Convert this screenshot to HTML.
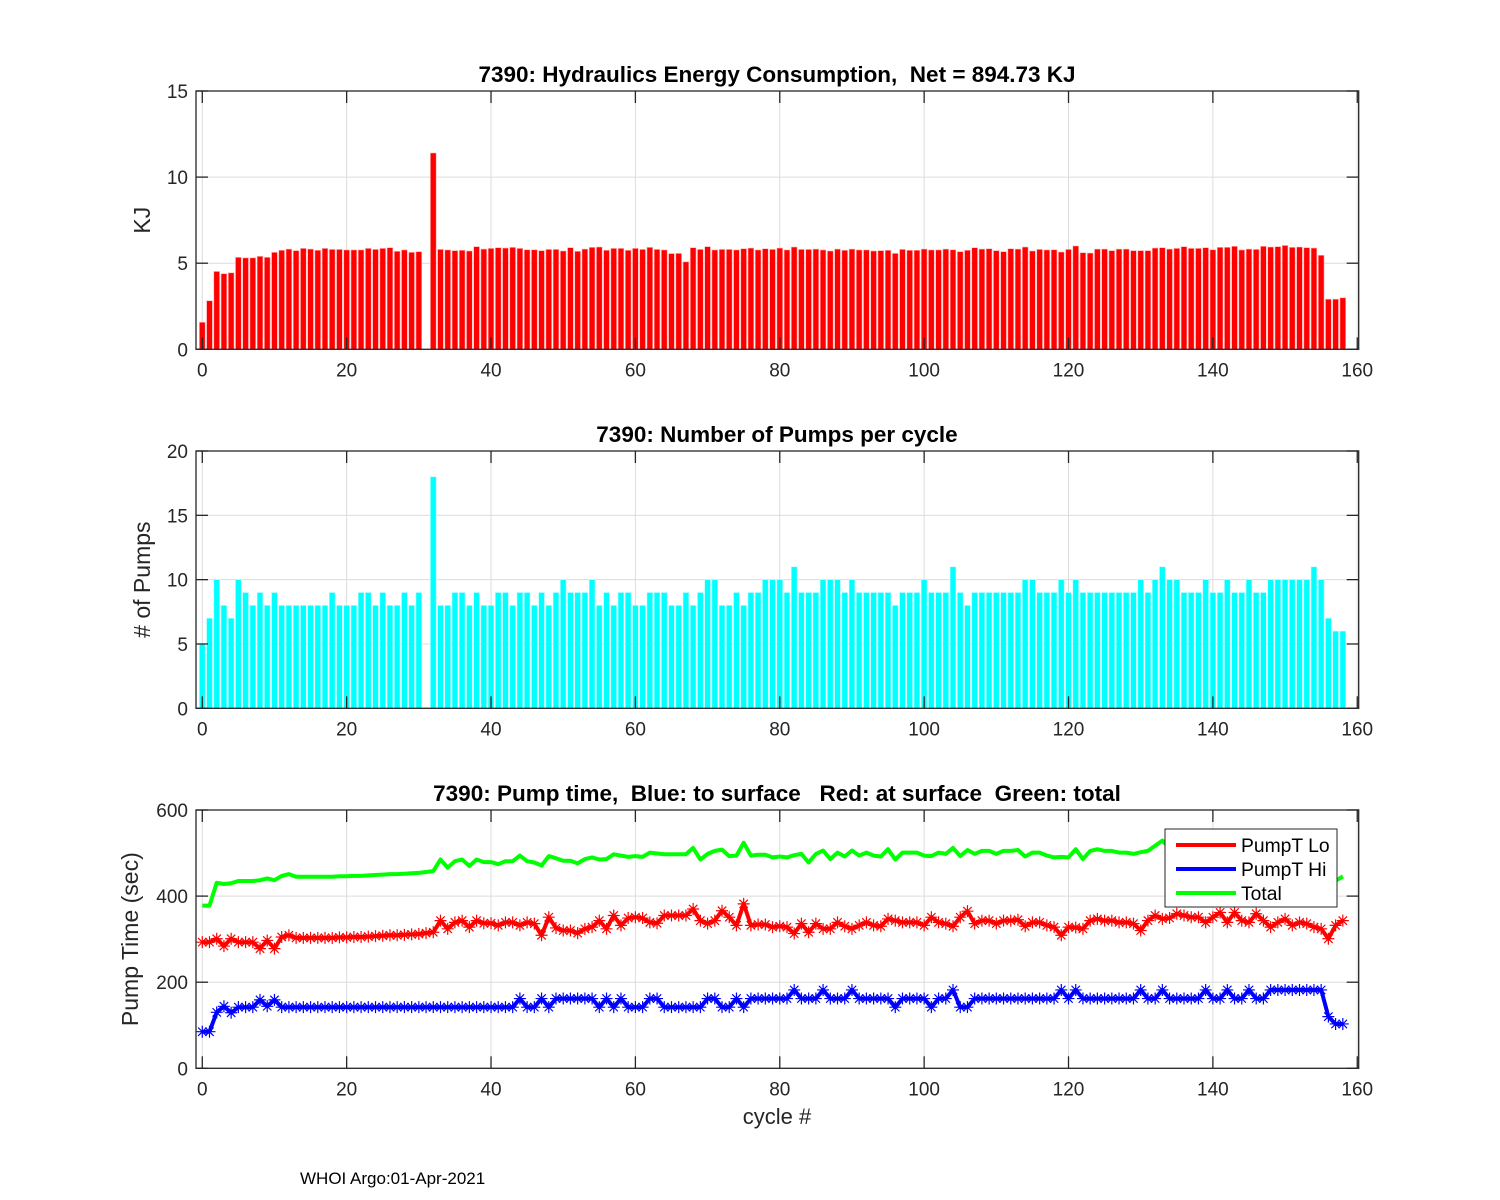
<!DOCTYPE html>
<html><head><meta charset="utf-8"><style>
html,body{margin:0;padding:0;background:#fff;}
svg{display:block;font-family:"Liberation Sans",Arial,sans-serif;}
text{white-space:pre;}
</style></head><body>
<svg id="fig" width="1500" height="1200" viewBox="0 0 1500 1200" xmlns="http://www.w3.org/2000/svg" xml:space="preserve">
<rect x="0" y="0" width="1500" height="1200" fill="#fff"/>
</svg>
<script>
const energy=[1.57,2.82,4.52,4.39,4.44,5.34,5.31,5.31,5.40,5.34,5.63,5.75,5.82,5.73,5.86,5.82,5.75,5.86,5.80,5.80,5.77,5.77,5.77,5.86,5.80,5.86,5.90,5.69,5.77,5.63,5.67,0,11.4,5.80,5.77,5.73,5.75,5.71,5.96,5.82,5.86,5.90,5.88,5.92,5.86,5.78,5.78,5.73,5.80,5.80,5.71,5.90,5.69,5.82,5.92,5.94,5.75,5.86,5.86,5.75,5.86,5.80,5.92,5.80,5.77,5.56,5.57,5.08,5.90,5.80,5.96,5.77,5.80,5.80,5.77,5.84,5.88,5.77,5.84,5.80,5.88,5.77,5.94,5.80,5.80,5.82,5.77,5.71,5.82,5.75,5.82,5.77,5.77,5.71,5.73,5.75,5.57,5.80,5.75,5.75,5.82,5.77,5.77,5.82,5.78,5.67,5.75,5.90,5.82,5.84,5.73,5.67,5.84,5.82,5.94,5.71,5.80,5.77,5.78,5.65,5.80,6.00,5.61,5.59,5.82,5.82,5.73,5.82,5.82,5.73,5.73,5.73,5.88,5.90,5.82,5.86,5.96,5.86,5.86,5.90,5.78,5.92,5.92,5.98,5.77,5.82,5.80,5.98,5.94,5.96,6.03,5.92,5.94,5.90,5.88,5.46,2.91,2.91,2.99];
const pumps=[5,7,10,8,7,10,9,8,9,8,9,8,8,8,8,8,8,8,9,8,8,8,9,9,8,9,8,8,9,8,9,0,18,8,8,9,9,8,9,8,8,9,9,8,9,9,8,9,8,9,10,9,9,9,10,8,9,8,9,9,8,8,9,9,9,8,8,9,8,9,10,10,8,8,9,8,9,9,10,10,10,9,11,9,9,9,10,10,10,9,10,9,9,9,9,9,8,9,9,9,10,9,9,9,11,9,8,9,9,9,9,9,9,9,10,10,9,9,9,10,9,10,9,9,9,9,9,9,9,9,10,9,10,11,10,10,9,9,9,10,9,9,10,9,9,10,9,9,10,10,10,10,10,10,11,10,7,6,6];
const pumpLo=[293,293,301,284,301,293,293,293,278,297,278,305,309,303,303,303,303,303,303,304,304,305,305,306,307,308,309,309,310,311,312,314,316,343,324,339,343,328,343,337,337,332,339,339,332,339,336,309,351,326,320,320,314,324,328,343,324,355,332,349,351,349,339,337,355,355,355,355,370,343,336,343,366,351,332,382,332,334,334,328,330,328,313,336,316,336,324,324,339,330,324,332,339,332,330,347,343,339,339,339,332,351,339,336,330,351,365,336,343,343,336,343,343,345,330,339,339,332,328,309,328,327,324,343,347,343,343,339,339,336,320,343,355,347,349,359,355,351,351,339,351,362,339,362,343,339,359,343,328,339,347,332,339,336,328,324,301,332,343];
const pumpHi=[85,85,130,144,129,142,142,142,159,144,159,142,142,142,142,142,142,142,142,142,142,142,142,142,142,142,142,142,142,142,142,142,142,142,142,142,142,142,142,142,142,142,142,142,162,142,142,162,142,162,162,162,162,162,162,142,162,142,162,142,142,142,162,162,142,142,142,142,142,142,162,162,142,142,162,142,162,162,162,162,162,162,182,162,162,162,182,162,162,162,182,162,162,162,162,162,142,162,162,162,162,142,162,162,182,142,142,162,162,162,162,162,162,162,162,162,162,162,162,182,162,182,162,162,162,162,162,162,162,162,182,162,162,182,162,162,162,162,162,182,162,162,182,162,162,182,162,162,182,182,182,182,182,182,182,182,120,103,103];
const pumpTotal=[378,378,431,428,430,435,435,435,437,441,437,447,451,445,445,445,445,445,445,446,446,447,447,448,449,450,451,451,452,453,454,456,458,485,466,481,485,470,485,479,479,474,481,481,494,481,478,471,493,488,482,482,476,486,490,485,486,497,494,491,493,491,501,499,497,497,497,497,512,485,498,505,508,493,494,524,494,496,496,490,492,490,495,498,478,498,506,486,501,492,506,494,501,494,492,509,485,501,501,501,494,493,501,498,512,493,507,498,505,505,498,505,505,507,492,501,501,494,490,491,490,509,486,505,509,505,505,501,501,498,502,505,517,529,511,521,517,513,513,521,513,524,521,524,505,521,521,505,510,521,529,514,521,518,510,506,421,435,446];
const xTicks=[0,20,40,60,80,100,120,140,160];
const yTicks1=[0,5,10,15];
const yTicks2=[0,5,10,15,20];
const yTicks3=[0,200,400,600];

const NS="http://www.w3.org/2000/svg";
const svg=document.getElementById('fig');
function el(tag,attrs,parent,text){const e=document.createElementNS(NS,tag);for(const k in attrs)e.setAttribute(k,attrs[k]);if(text!==undefined)e.textContent=text;(parent||svg).appendChild(e);return e;}
const L=196,R=1358.7,XMIN=-0.87,XMAX=160.2;
function xs(v){return L+(v-XMIN)/(XMAX-XMIN)*(R-L);}
function makeAxes(name,top,bot,ymax,yTicks){
  const g=el('g',{});
  
  
  const ys=v=>bot-(v/ymax)*(bot-top);
  for(const t of xTicks){el('line',{x1:xs(t),x2:xs(t),y1:top,y2:bot,stroke:'#dcdcdc','stroke-width':1},g);}
  for(const t of yTicks){el('line',{x1:L,x2:R,y1:ys(t),y2:ys(t),stroke:'#dcdcdc','stroke-width':1},g);}
  return {g,ys,top,bot};
}
function finishAxes(ax,yTicks,ylabel,ylx,title,tname){
  const {g,ys,top,bot}=ax;
  el('rect',{x:L,y:top,width:R-L,height:bot-top,fill:'none',stroke:'#262626','stroke-width':1.3},g);
  for(const t of xTicks){
    el('line',{x1:xs(t),x2:xs(t),y1:bot,y2:bot-12,stroke:'#262626','stroke-width':1.3},g);
    el('line',{x1:xs(t),x2:xs(t),y1:top,y2:top+12,stroke:'#262626','stroke-width':1.3},g);
    const tl=el('text',{x:xs(t),y:bot+27,'text-anchor':'middle','font-size':19,fill:'#262626'},g,String(t));
    
    
  }
  for(const t of yTicks){
    el('line',{x1:L,x2:L+12,y1:ys(t),y2:ys(t),stroke:'#262626','stroke-width':1.3},g);
    el('line',{x1:R,x2:R-12,y1:ys(t),y2:ys(t),stroke:'#262626','stroke-width':1.3},g);
    const tl=el('text',{x:L-8,y:ys(t)+7,'text-anchor':'end','font-size':19,fill:'#262626'},g,String(t));
    
    
  }
  const yl=el('text',{x:ylx,y:(top+bot)/2,'text-anchor':'middle','font-size':23,fill:'#262626',transform:`rotate(-90 ${ylx} ${(top+bot)/2})`},g,ylabel);
  
  
  const tt=el('text',{x:777,y:top-9,'text-anchor':'middle','font-size':22.5,'font-weight':'bold',fill:'#000'},g,title);
  
  
}
function bars(ax,data,color,name){
  const w=0.8*(R-L)/(XMAX-XMIN);
  data.forEach((v,i)=>{
    if(v<=0)return;
    const r=el('rect',{x:xs(i)-w/2,y:ax.ys(v),width:w,height:ax.bot-ax.ys(v),fill:color,stroke:'#ffb3b3','stroke-width':0.6},ax.g);
    if(color==='#00ffff')r.setAttribute('stroke','#b3ffff');
    
    
  });
}
const a1=makeAxes('energy-chart',91,349.3,15,yTicks1);
bars(a1,energy,'#ff0000','energy-bar');
finishAxes(a1,yTicks1,'KJ',150,'7390: Hydraulics Energy Consumption,  Net = 894.73 KJ','energy-chart-title');
const a2=makeAxes('pumps-chart',451,708.3,20,yTicks2);
bars(a2,pumps,'#00ffff','pumps-bar');
finishAxes(a2,yTicks2,'# of Pumps',150,'7390: Number of Pumps per cycle','pumps-chart-title');
const a3=makeAxes('pump-time-chart',810,1068.3,600,yTicks3);
function line(data,color,name,markers){
  const pts=data.map((v,i)=>xs(i).toFixed(1)+','+a3.ys(v).toFixed(1)).join(' ');
  const p=el('polyline',{points:pts,fill:'none',stroke:color,'stroke-width':4,'stroke-linejoin':'round'},a3.g);
  
  
  if(markers){
    const s=6;
    data.forEach((v,i)=>{
      const x=xs(i),y=a3.ys(v);
      const m=el('path',{d:`M${x-s} ${y}H${x+s}M${x} ${y-s}V${y+s}M${x-s*0.7} ${y-s*0.7}L${x+s*0.7} ${y+s*0.7}M${x-s*0.7} ${y+s*0.7}L${x+s*0.7} ${y-s*0.7}`,stroke:color,'stroke-width':1.2,fill:'none'},a3.g);
      
      
    });
  }
}
line(pumpTotal,'#00ff00','total-line',false);
line(pumpLo,'#ff0000','pumpt-lo-line',true);
line(pumpHi,'#0000ff','pumpt-hi-line',true);
finishAxes(a3,yTicks3,'Pump Time (sec)',138,'7390: Pump time,  Blue: to surface   Red: at surface  Green: total','pump-time-chart-title');
const xl=el('text',{x:777,y:1124,'text-anchor':'middle','font-size':22,fill:'#262626'},svg,'cycle #');


const lg=el('g',{});


el('rect',{x:1165,y:829,width:172,height:78,fill:'#fff',stroke:'#262626','stroke-width':1},lg);
[['PumpT Lo','#ff0000',845],['PumpT Hi','#0000ff',869],['Total','#00ff00',893]].forEach(([t,c,y])=>{
  el('line',{x1:1176,x2:1236,y1:y,y2:y,stroke:c,'stroke-width':4},lg);
  const tx=el('text',{x:1241,y:y+7,'font-size':19.3,fill:'#000'},lg,t);
  
  
});
const ft=el('text',{x:300,y:1184,'font-size':17,fill:'#000'},svg,'WHOI Argo:01-Apr-2021');


</script>
</body></html>
